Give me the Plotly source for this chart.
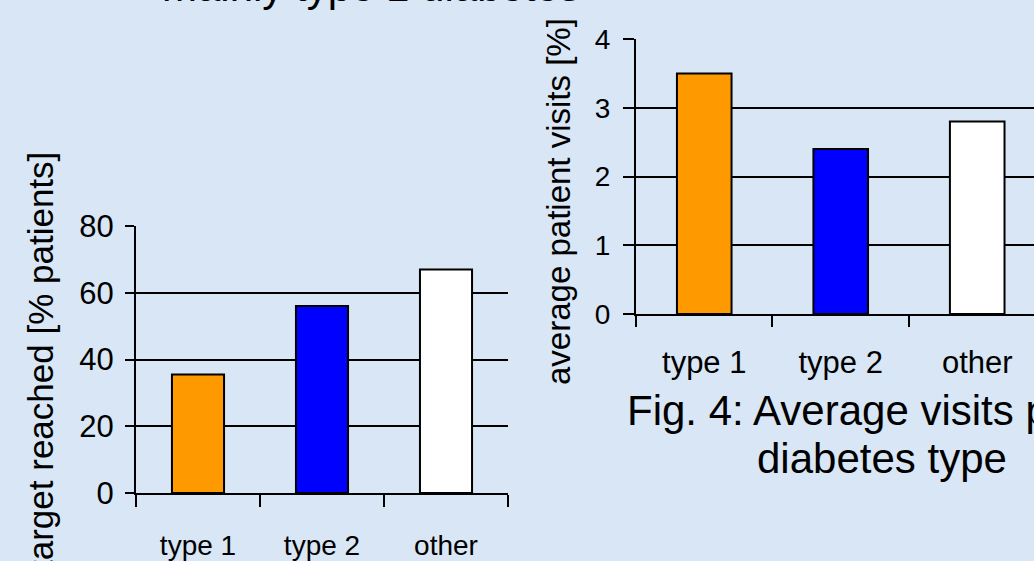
import plotly.graph_objects as go

categories = ["type 1", "type 2", "other"]
target_reached = [35.5, 56, 67]
avg_visits = [3.5, 2.4, 2.8]
bar_colors = ["#FF9900", "#0000FF", "#FFFFFF"]

W, H = 1034, 561
FONT = "Arial, Liberation Sans, sans-serif"
BG = "#d8e6f5"

def px_x(x):
    return x / W

def px_y(y):
    return (H - y) / H

fig = go.Figure()
fig.add_trace(go.Bar(x=categories, y=target_reached, xaxis="x", yaxis="y",
                     width=0.42,
                     marker=dict(color=bar_colors, line=dict(color="black", width=2)),
                     showlegend=False))
fig.add_trace(go.Bar(x=categories, y=avg_visits, xaxis="x2", yaxis="y2",
                     width=0.40,
                     marker=dict(color=bar_colors, line=dict(color="black", width=2)),
                     showlegend=False))

axis_common = dict(showline=True, linecolor="black", linewidth=2,
                   ticks="outside", tickcolor="black", tickwidth=2,
                   zeroline=False, automargin=False)

fig.update_layout(
    width=W, height=H, autosize=False,
    margin=dict(l=0, r=0, t=0, b=0, autoexpand=False),
    paper_bgcolor=BG, plot_bgcolor="rgba(0,0,0,0)",
    font=dict(family=FONT, color="black"),
    xaxis=dict(domain=[px_x(136), px_x(508)], anchor="y", type="category",
               range=[-0.5, 2.5], tickson="boundaries", ticklen=12,
               showgrid=False, tickfont=dict(size=28), ticklabelstandoff=26,
               **axis_common),
    yaxis=dict(domain=[px_y(493), px_y(226)], anchor="x", range=[0, 80], dtick=20,
               ticklen=9, showgrid=True, gridcolor="black", gridwidth=2,
               tickfont=dict(size=31), ticklabelstandoff=5, **axis_common),
    xaxis2=dict(domain=[px_x(636), 1.0], anchor="y2", type="category",
                range=[-0.5, 2.416], tickson="boundaries", ticklen=11,
                showgrid=False, tickfont=dict(size=31), ticklabelstandoff=20,
                **axis_common),
    yaxis2=dict(domain=[px_y(314), px_y(39)], anchor="x2", range=[0, 4], dtick=1,
                ticklen=11, showgrid=True, gridcolor="black", gridwidth=2,
                tickfont=dict(size=28), ticklabelstandoff=7, **axis_common),
)

annotations = [
    dict(text="target reached [% patients]", x=px_x(40), y=px_y(361), textangle=-90,
         font=dict(size=35)),
    dict(text="average patient visits [%]", x=px_x(558), y=px_y(202), textangle=-90,
         font=dict(size=33)),
    dict(text="mainly type 1 diabetes", x=px_x(371), y=px_y(-14),
         font=dict(size=42)),
    dict(text="Fig. 4: Average visits per", x=px_x(625), y=px_y(410), xanchor="left",
         font=dict(size=42)),
    dict(text="diabetes type", x=px_x(882), y=px_y(458),
         font=dict(size=42)),
]
for a in annotations:
    a.setdefault("xanchor", "center")
    a.update(xref="paper", yref="paper", yanchor="middle", showarrow=False)
fig.update_layout(annotations=annotations)

fig.write_html("out.html", config={"displayModeBar": False},
               post_script=f"document.body.style.margin='0';document.body.style.background='{BG}';")
